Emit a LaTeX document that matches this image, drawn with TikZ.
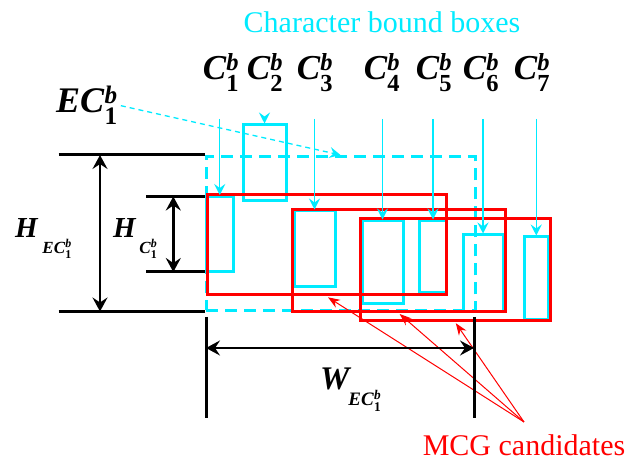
\documentclass[tikz,border=0pt]{standalone}
\usepackage{amsmath}
\usepackage{fontspec}
\setmainfont{Liberation Serif}
\usepackage{xcolor}
\usepackage{tikz}
\usetikzlibrary{arrows.meta,positioning}
\definecolor{boxcyan}{RGB}{0,235,255}
\definecolor{mcgred}{RGB}{255,0,0}
\newcommand{\bfit}[1]{\textbf{\textit{#1}}}
\newcommand{\charlbl}[1]{\bfit{C}$_{\textbf{#1}}^{\bfit{b}}$}
\newcommand{\dimlbl}[4]{\bfit{#1}\hspace{#4}\raisebox{-16pt}{\fontsize{#3}{#3}\selectfont\bfit{#2}$_{\textbf{1}}^{\bfit{b}}$}}
\tikzset{
 charbox/.style={
 rectangle,
 draw=boxcyan,
 line width=3pt,
 inner sep=0pt
 },
 ecbox/.style={
 rectangle,
 draw=boxcyan,
 line width=3pt,
 dash pattern=on 12pt off 7pt,
 inner sep=0pt
 },
 mcgbox/.style={
 rectangle,
 draw=mcgred,
 line width=3pt,
 inner sep=0pt
 },
 charlabel/.style={anchor=base, inner sep=0pt, font=\fontsize{35}{37}\selectfont},
 dimlabel/.style={anchor=base west, inner sep=0pt},
 dimline/.style={line width=3pt, draw=black},
 dimarrow/.style={{Stealth[length=14pt,width=15pt,inset=5pt]}-{Stealth[length=14pt,width=15pt,inset=5pt]}, line width=2.5pt},
 chararrow/.style={-{Stealth[length=11pt,width=11pt,inset=4pt]}, draw=boxcyan, line width=1.3pt},
 ecarrow/.style={chararrow, dash pattern=on 5pt off 4pt},
 mcgarrow/.style={-{Stealth[length=12pt,width=9pt,inset=4pt]}, draw=mcgred, line width=1pt, shorten >=1.5pt}
}

\begin{document}
\begin{tikzpicture}[x=1pt, y=-1pt]
 \useasboundingbox (0,0) rectangle (643,462);

 % character bound boxes
 \node[charbox, minimum width=26.5pt, minimum height=75.5pt] (c1) at (219.75,234.25) {};
 \node[charbox, minimum width=43pt, minimum height=76pt] (c2) at (264.5,163) {};
 \node[charbox, minimum width=41pt, minimum height=76pt] (c3) at (314.5,249) {};
 \node[charbox, minimum width=41pt, minimum height=83pt] (c4) at (382.5,262.5) {};
 \node[charbox, minimum width=27pt, minimum height=72pt] (c5) at (433,257) {};
 \node[charbox, minimum width=40pt, minimum height=76.5pt] (c6) at (483,273.25) {};
 \node[charbox, minimum width=24.5pt, minimum height=83pt] (c7) at (536.25,278.5) {};
 \node[ecbox, minimum width=269pt, minimum height=154pt] (ec) at (340.5,233.5) {};

 % MCG candidates
 \node[mcgbox, minimum width=239.5pt, minimum height=100.5pt] (mcg1) at (326.75,244.75) {};
 \node[mcgbox, minimum width=213pt, minimum height=101.5pt] (mcg2) at (398.5,260.75) {};
 \node[mcgbox, minimum width=190pt, minimum height=102pt] (mcg3) at (455,269.5) {};

 % labels
 \node[anchor=base, inner sep=0pt, text=boxcyan, font=\fontsize{30}{32}\selectfont] (title) at (382,33) {Character bound boxes};
 \node[charlabel] (lc1) at (221,80) {\charlbl{1}};
 \node[charlabel] (lc2) at (265,80) {\charlbl{2}};
 \node[charlabel] (lc3) at (315,80) {\charlbl{3}};
 \node[charlabel] (lc4) at (382,80) {\charlbl{4}};
 \node[charlabel] (lc5) at (434,80) {\charlbl{5}};
 \node[charlabel] (lc6) at (481,80) {\charlbl{6}};
 \node[charlabel] (lc7) at (532,80) {\charlbl{7}};
 \node[dimlabel, font=\fontsize{36}{38}\selectfont] (lec) at (56,113) {\bfit{EC}$_{\textbf{1}}^{\bfit{b}}$};
 \node[anchor=base, inner sep=0pt, text=mcgred, font=\fontsize{30}{32}\selectfont] (mcglbl) at (524,455) {MCG candidates};

 \coordinate (atop) at (0,119);
 \foreach \c in {c1,c2,c3,c4,c5,c6,c7}
 \draw[chararrow] (\c.north |- atop) -- (\c.north);
 \draw[ecarrow] ([xshift=3pt]lec.east) -- (ec.north);

 \coordinate (mcgtip) at ([yshift=12pt]mcglbl.north);
 \foreach \m in {mcg1,mcg2,mcg3}
 \draw[mcgarrow] (mcgtip) -- (\m.south);

 % dimensions
 \draw[dimline] (58.7,155) -- (205,155);
 \draw[dimline] (58.7,311.5) -- (205,311.5);
 \draw[dimline] (146,196.5) -- (205,196.5);
 \draw[dimline] (146,272) -- (205,272);
 \draw[dimline] (206,317) -- (206,418);
 \draw[dimline] (474,317) -- (474,418);
 \draw[dimarrow] (100,155) -- (100,311.5);
 \draw[dimarrow] (173.3,196.5) -- (173.3,272);
 \draw[dimarrow] (206,348) -- (474,348);

 \node[dimlabel, font=\fontsize{29}{31}\selectfont] (lhec) at (15,238) {\dimlbl{H}{EC}{17}{4pt}};
 \node[dimlabel, font=\fontsize{29}{31}\selectfont] (lhc) at (113,238) {\dimlbl{H}{C}{17}{3pt}};
 \node[dimlabel, font=\fontsize{33}{35}\selectfont] (lw) at (320,390) {\dimlbl{W}{EC}{19}{-3pt}};
\end{tikzpicture}
\end{document}
